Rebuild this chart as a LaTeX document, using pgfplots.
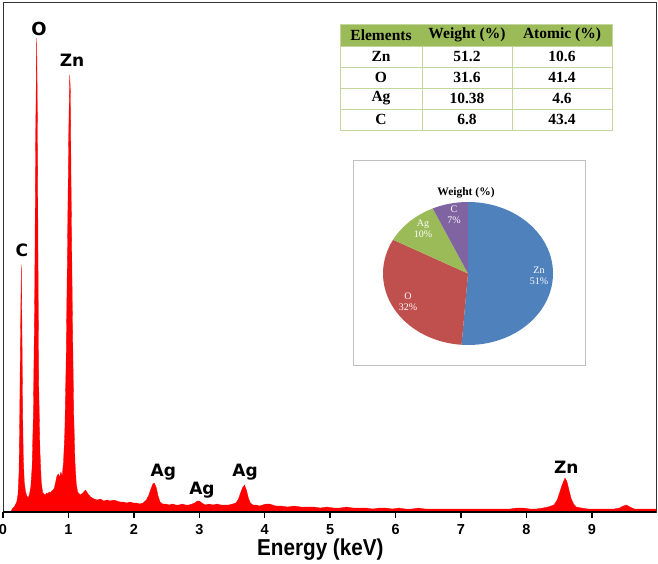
\documentclass[border=0pt]{standalone}
\usepackage{pgfplots}
\pgfplotsset{compat=1.18}
\usepackage{graphicx}
\usepackage{fontspec}
\setmainfont{Liberation Serif}
\newfontfamily\arialf{Liberation Sans}
\newfontfamily\dejab{DejaVu Sans}
\definecolor{zncol}{HTML}{4F81BD}
\definecolor{ocol}{HTML}{C0504D}
\definecolor{agcol}{HTML}{9BBB59}
\definecolor{ccol}{HTML}{8064A2}
\definecolor{hdrcol}{HTML}{9BBB59}
\definecolor{tblline}{HTML}{C3D69B}
\begin{document}
\begin{tikzpicture}[x=1pt,y=1pt]
\begin{axis}[
 name=main, at={(0,0)}, anchor=south west,
 scale only axis, width=653pt, height=510pt,
 xmin=0, xmax=9.98, ymin=0, ymax=510,
 axis line style={line width=0.9pt, black!80},
 xtick={0,1,2,3,4,5,6,7,8,9}, xtick pos=bottom, tick align=outside,
 major tick length=6pt,
 x tick style={line width=1.5pt, black},
 ytick=\empty,
 /pgf/number format/assume math mode=true,
 xticklabel style={font=\arialf\bfseries\fontsize{14.5}{14.5}\selectfont, yshift=-3pt},
 xlabel={\scalebox{0.9}[1]{Energy (keV)}},
 xlabel style={font=\arialf\bfseries\fontsize{23}{23}\selectfont, at={(axis description cs:0.486,0)}, anchor=center, yshift=-38pt},
 clip=true,
]
\addplot[fill=red, draw=red, line width=0.3pt] table {
x y
0.12 0
0.14 3
0.18 6
0.21 10
0.23 18
0.245 40
0.255 90
0.265 160
0.28 247
0.29 180
0.30 100
0.31 55
0.325 30
0.345 20
0.365 16
0.385 14
0.405 18
0.425 25
0.445 45
0.465 100
0.485 220
0.50 380
0.515 474
0.525 400
0.535 260
0.545 130
0.565 60
0.585 30
0.605 20
0.625 18
0.645 17
0.665 19
0.685 18
0.705 20
0.725 19
0.745 21
0.765 22
0.785 24
0.805 30
0.825 36
0.845 38
0.865 35
0.885 40
0.905 36
0.925 50
0.945 80
0.965 150
0.985 260
1.005 380
1.02 437
1.03 420
1.04 330
1.06 200
1.08 100
1.10 50
1.12 28
1.14 20
1.18 17
1.22 19
1.26 22
1.30 18
1.34 15
1.39 13
1.44 12
1.49 13
1.54 11
1.59 12
1.64 11
1.69 12
1.74 11
1.79 10
1.84 10
1.89 9
1.94 10
1.99 9
2.04 9
2.09 8
2.14 9
2.19 12
2.23 17
2.26 23
2.29 28
2.31 29
2.34 25
2.37 16
2.40 10
2.44 8
2.49 8
2.54 7
2.59 8
2.64 7
2.69 7
2.74 8
2.79 7
2.84 7
2.89 8
2.93 9
2.97 11
3.00 11
3.04 9
3.09 7
3.15 8
3.21 7
3.27 8
3.33 7
3.39 7
3.45 7
3.51 8
3.56 9
3.60 13
3.63 19
3.66 24
3.69 27
3.72 22
3.75 14
3.78 9
3.82 7
3.87 7
3.92 6
3.97 7
4.02 8
4.07 8
4.12 7
4.17 6
4.25 6
4.35 5
4.45 6
4.55 5
4.65 5
4.75 5
4.85 4
4.95 5
5.05 4
5.15 4
5.25 5
5.35 4
5.45 4
5.55 4
5.65 3
5.75 4
5.85 4
5.95 3
6.05 4
6.15 3
6.25 3
6.35 4
6.45 3
6.55 3
6.65 3
6.75 3
6.85 3
6.95 3
7.05 3
7.15 3
7.25 3
7.35 3
7.45 3
7.55 3
7.65 3
7.75 3
7.85 4
7.95 4
8.05 3
8.15 3
8.25 4
8.33 5
8.42 7
8.47 12
8.51 20
8.55 28
8.59 34
8.62 30
8.65 22
8.68 14
8.72 8
8.76 5
8.84 4
8.94 3
9.04 3
9.14 3
9.24 3
9.34 3
9.42 4
9.48 6
9.53 7
9.58 5
9.65 3
9.75 3
9.85 3
9.98 3
} \closedcycle;
\draw[line width=1.8pt, black] (rel axis cs:0,0) -- (rel axis cs:1,0);
\node[font=\dejab\bfseries\fontsize{17}{17}\selectfont] at (axis cs:0.29,262) {C};
\node[font=\dejab\bfseries\fontsize{18}{18}\selectfont] at (axis cs:0.55,483) {O};
\node[font=\dejab\bfseries\fontsize{17}{17}\selectfont] at (axis cs:1.055,452) {Zn};
\node[font=\dejab\bfseries\fontsize{17}{17}\selectfont] at (axis cs:2.45,40) {Ag};
\node[font=\dejab\bfseries\fontsize{17}{17}\selectfont] at (axis cs:3.04,22) {Ag};
\node[font=\dejab\bfseries\fontsize{17}{17}\selectfont] at (axis cs:3.70,40) {Ag};
\node[font=\dejab\bfseries\fontsize{17}{17}\selectfont] at (axis cs:8.61,45) {Zn};
\end{axis}
% composition table
\fill[white] (337,382) rectangle (609,488);
\fill[hdrcol] (337,466) rectangle (609,488);
\draw[tblline, line width=0.8pt] (337,382) rectangle (609,488);
\foreach \yy in {445,424,403} \draw[tblline, line width=0.8pt] (337,\yy) -- (609,\yy);
\draw[tblline, line width=0.8pt] (337,466) -- (609,466);
\draw[tblline, line width=0.8pt] (419,382) -- (419,466);
\draw[tblline, line width=0.8pt] (509,382) -- (509,466);
\begin{scope}[every node/.style={font=\bfseries\fontsize{15.5}{15.5}\selectfont, anchor=center}]
\node at (378,477) {Elements};
\node at (464,477) {Weight (\%)};
\node at (559,477) {Atomic (\%)};
\foreach \n/\w/\a [count=\i] in {Zn/51.2/10.6, O/31.6/41.4, Ag/10.38/4.6, C/6.8/43.4}{
  \pgfmathsetmacro\yc{466-21*\i+10.5}
  \node at (378,\yc) {\n};
  \node at (464,\yc) {\w};
  \node at (559,\yc) {\a};
}
\end{scope}
% pie inset
\filldraw[fill=white, draw=black!25, line width=0.8pt] (350,147) rectangle (582,352);
\node[font=\bfseries\fontsize{11.5}{11.5}\selectfont] at (463,319) {Weight (\%)};
\gdef\cura{90}
\begin{scope}[shift={(465,238.5)}, xscale=85, yscale=71.5]
\foreach \v/\c in {51.2/zncol, 31.6/ocol, 10.38/agcol, 6.8/ccol}{
  \pgfmathsetmacro\nexta{\cura - \v/99.98*360}
  \fill[\c] (0,0) -- (\cura:1) arc[start angle=\cura, end angle=\nexta, radius=1] -- cycle;
  \xdef\cura{\nexta}
}
\end{scope}
\begin{scope}[every node/.style={font=\fontsize{10}{10.5}\selectfont, text=white, align=center}]
\node at (536,236) {Zn\\51\%};
\node at (405,210) {O\\32\%};
\node at (420,283) {Ag\\10\%};
\node at (451,297) {C\\7\%};
\end{scope}
\pgfresetboundingbox
\path (-3,-51) rectangle (655,512);
\end{tikzpicture}
\end{document}
